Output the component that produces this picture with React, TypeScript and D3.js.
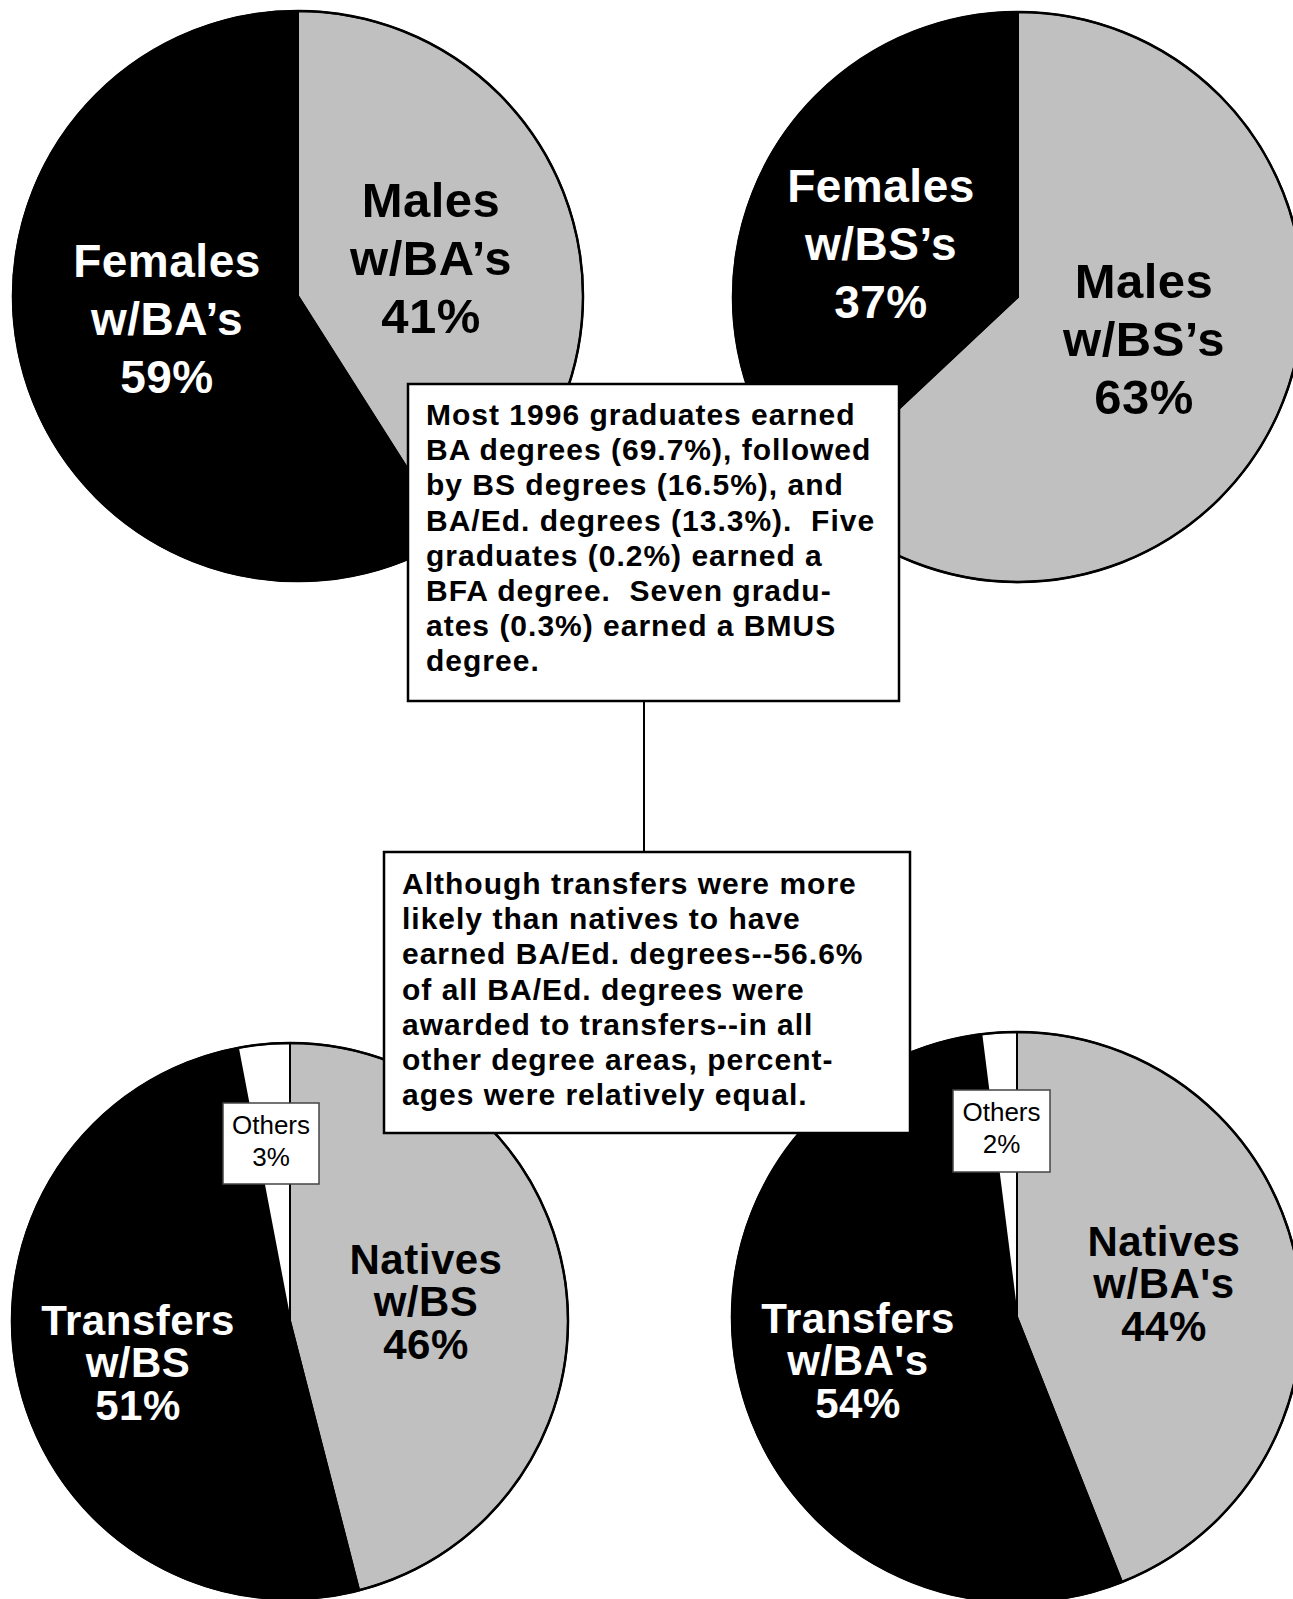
import React, { useEffect, useRef } from "react";
import * as d3 from "d3";

const W = 1293;
const H = 1599;

// BA degrees by gender
const baGenderCategories = ["Males", "Females"];
const baGenderValues = [41, 59];

// BS degrees by gender
const bsGenderCategories = ["Males", "Females"];
const bsGenderValues = [63, 37];

// BS degrees, natives vs transfers
const bsOriginCategories = ["Natives", "Transfers", "Others"];
const bsOriginValues = [46, 51, 3];

// BA degrees, natives vs transfers
const baOriginCategories = ["Natives", "Transfers", "Others"];
const baOriginValues = [44, 54, 2];

const degreeLabels = ["w/BA’s", "w/BS’s", "w/BS", "w/BA's"];

const summaryLines = [
  "Most 1996 graduates earned",
  "BA degrees (69.7%), followed",
  "by BS degrees (16.5%), and",
  "BA/Ed. degrees (13.3%).  Five",
  "graduates (0.2%) earned a",
  "BFA degree.  Seven gradu-",
  "ates (0.3%) earned a BMUS",
  "degree.",
];

const transferLines = [
  "Although transfers were more",
  "likely than natives to have",
  "earned BA/Ed. degrees--56.6%",
  "of all BA/Ed. degrees were",
  "awarded to transfers--in all",
  "other degree areas, percent-",
  "ages were relatively equal.",
];

const GRAY = "#c0c0c0";
const FONT = "'Liberation Sans', Arial, Helvetica, sans-serif";

// layout only: where each pie sits and where its labels go
const pieLayouts = [
  { cx: 298, cy: 296, r: 285, fontSizes: [49, 46], gap: 58, labels: [[431, 257], [167, 318]], others: null },
  { cx: 1018, cy: 297, r: 285, fontSizes: [49, 46], gap: 58, labels: [[1144, 338], [881, 243]], others: null },
  { cx: 290, cy: 1321, r: 278, fontSizes: [42, 42], gap: 42.5, labels: [[426, 1301], [138, 1362], null], others: { x: 223, y: 1103, w: 96, h: 81 } },
  { cx: 1017, cy: 1317, r: 285, fontSizes: [42, 42], gap: 42.5, labels: [[1164, 1283], [858, 1360], null], others: { x: 953, y: 1090, w: 97, h: 82 } },
];

const pieData = [
  { cats: baGenderCategories, vals: baGenderValues },
  { cats: bsGenderCategories, vals: bsGenderValues },
  { cats: bsOriginCategories, vals: bsOriginValues },
  { cats: baOriginCategories, vals: baOriginValues },
];

const fillFor = (cat: string) =>
  cat === "Others" ? "#fff" : cat === "Females" || cat === "Transfers" ? "#000" : GRAY;

export default function App() {
  const ref = useRef<SVGSVGElement>(null);

  useEffect(() => {
    const svg = d3.select(ref.current);
    svg.selectAll("*").remove();

    svg.append("rect").attr("width", W).attr("height", H).attr("fill", "#fff");

    const pie = d3.pie<number>().sort(null).value(d => d);

    pieData.forEach((p, i) => {
      const lay = pieLayouts[i];
      const g = svg.append("g").attr("transform", `translate(${lay.cx},${lay.cy})`);
      const arc = d3.arc<d3.PieArcDatum<number>>().innerRadius(0).outerRadius(lay.r);
      const arcs = pie(p.vals);

      g.selectAll("path.slice")
        .data(arcs)
        .enter()
        .append("path")
        .attr("class", "slice")
        .attr("d", arc)
        .attr("fill", (d, j) => fillFor(p.cats[j]))
        .attr("stroke", "#000")
        .attr("stroke-width", 2)
        .attr("stroke-linejoin", "round");

      g.append("circle")
        .attr("r", lay.r)
        .attr("fill", "none")
        .attr("stroke", "#000")
        .attr("stroke-width", 2.5);

      // big slice labels
      p.cats.forEach((cat, j) => {
        const pos = lay.labels[j];
        if (!pos) return;
        const fs = lay.fontSizes[j];
        const lines = [cat, degreeLabels[i], `${p.vals[j]}%`];
        const color = fillFor(cat) === "#000" ? "#fff" : "#000";
        lines.forEach((ln, k) => {
          svg.append("text")
            .attr("x", pos[0])
            .attr("y", pos[1] + (k - 1) * lay.gap + fs * 0.36)
            .attr("text-anchor", "middle")
            .attr("font-family", FONT)
            .attr("font-weight", "bold")
            .attr("font-size", fs)
            .attr("letter-spacing", 0.5)
            .attr("fill", color)
            .text(ln);
        });
      });

      // small "Others" callout box
      if (lay.others) {
        const o = lay.others;
        const j = p.cats.indexOf("Others");
        svg.append("rect")
          .attr("x", o.x).attr("y", o.y).attr("width", o.w).attr("height", o.h)
          .attr("fill", "#fff").attr("stroke", "#444").attr("stroke-width", 1.5);
        ["Others", `${p.vals[j]}%`].forEach((ln, k) => {
          svg.append("text")
            .attr("x", o.x + o.w / 2)
            .attr("y", o.y + 31 + k * 32)
            .attr("text-anchor", "middle")
            .attr("font-family", FONT)
            .attr("font-size", 26)
            .attr("fill", "#000")
            .text(ln);
        });
      }
    });

    // connector between the two notes
    svg.append("line")
      .attr("x1", 644).attr("x2", 644).attr("y1", 700).attr("y2", 852)
      .attr("stroke", "#000").attr("stroke-width", 2);

    const noteBox = (x: number, y: number, w: number, h: number, tx: number, ty: number, lines: string[]) => {
      svg.append("rect")
        .attr("x", x).attr("y", y).attr("width", w).attr("height", h)
        .attr("fill", "#fff").attr("stroke", "#000").attr("stroke-width", 2.5);
      lines.forEach((ln, k) => {
        svg.append("text")
          .attr("x", tx)
          .attr("y", ty + k * 35.2)
          .attr("font-family", FONT)
          .attr("font-weight", "bold")
          .attr("font-size", 30)
          .attr("letter-spacing", 1)
          .style("white-space", "pre")
          .attr("fill", "#000")
          .text(ln);
      });
    };

    noteBox(408, 384, 491, 317, 426, 425, summaryLines);
    noteBox(384, 852, 526, 281, 402, 894, transferLines);
  }, []);

  return (
    <svg
      ref={ref}
      width={W}
      height={H}
      style={{ position: "absolute", left: 0, top: 0, display: "block" }}
    />
  );
}
